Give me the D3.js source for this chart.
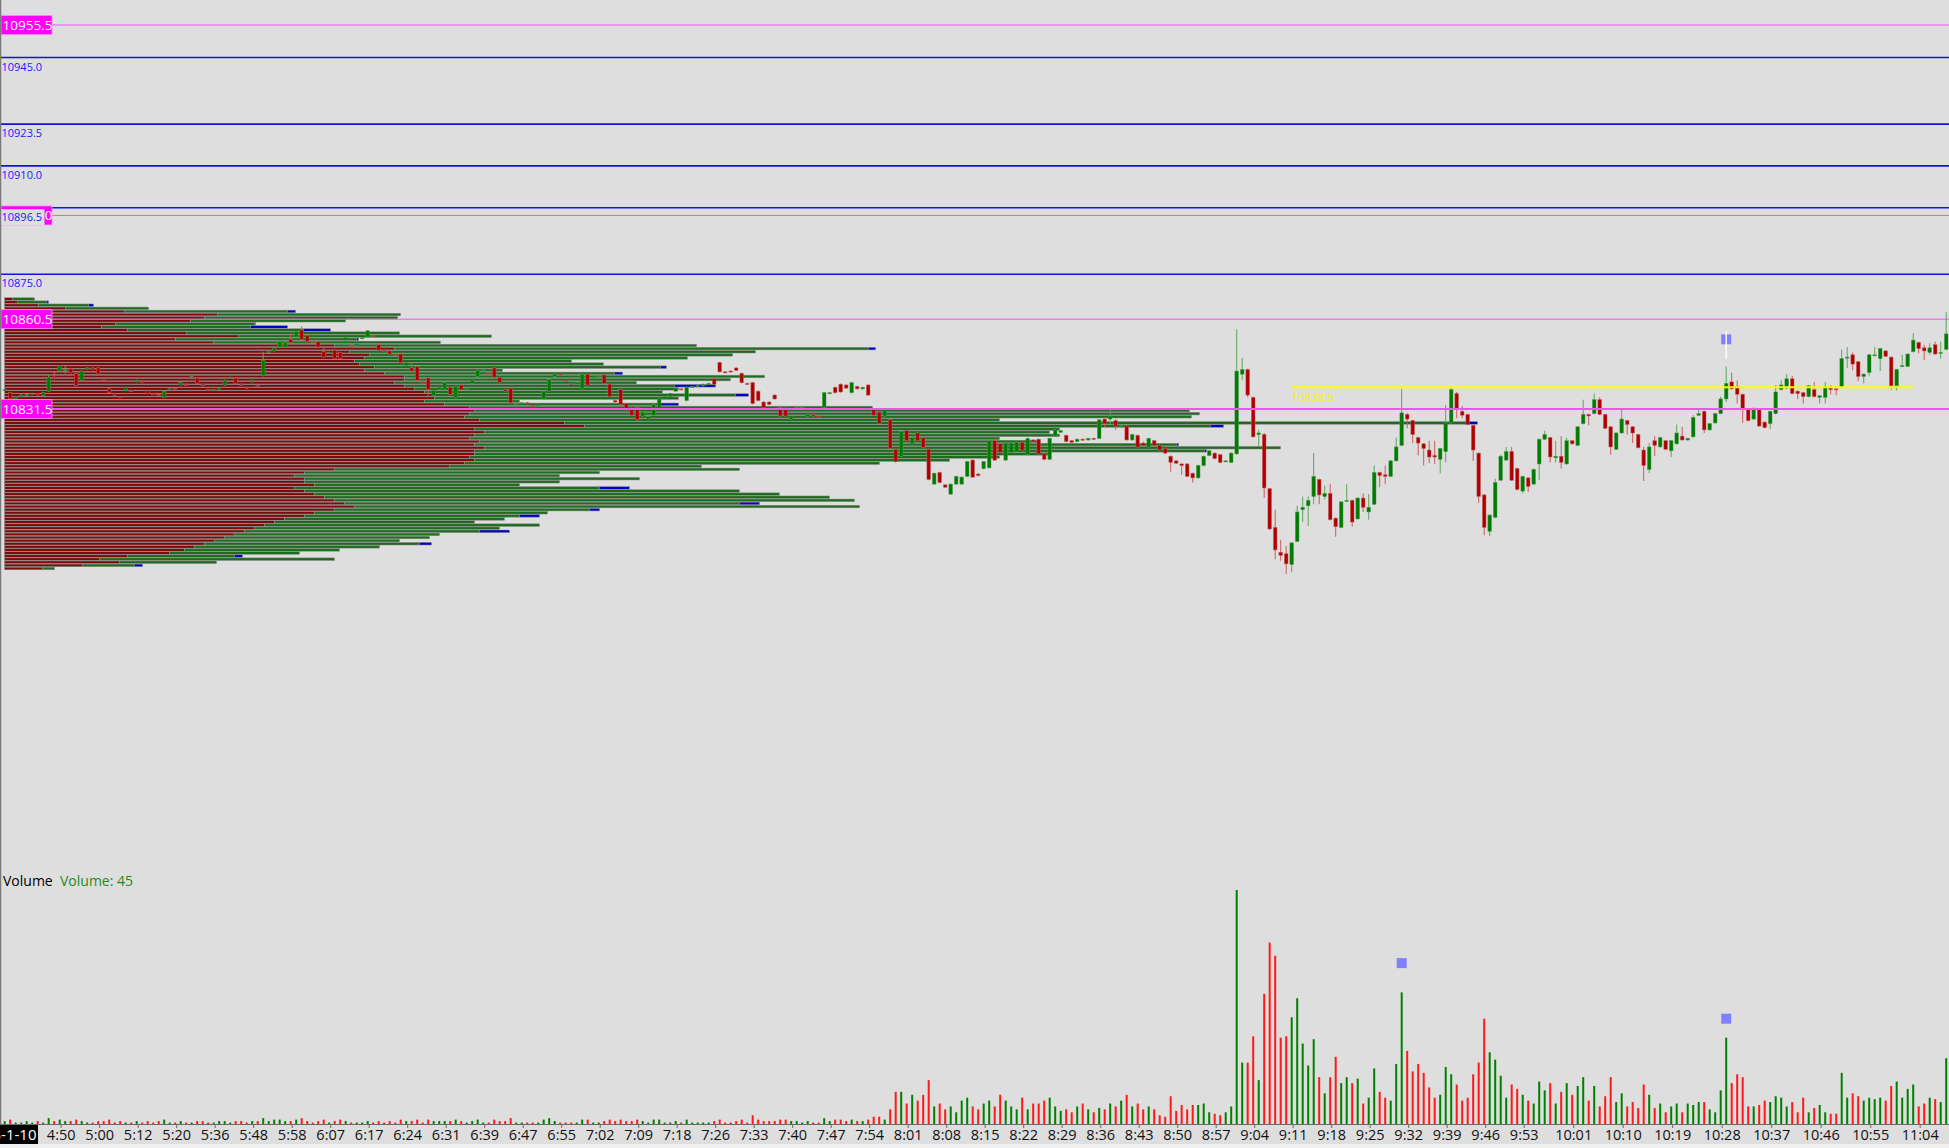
<!DOCTYPE html>
<html>
<head>
<meta charset="utf-8">
<script src="https://cdnjs.cloudflare.com/ajax/libs/d3/7.8.5/d3.min.js"></script>
<style>
html, body { margin: 0; padding: 0; background: #dedede; overflow: hidden; }
svg { display: block; font-family: "Open Sans", "Liberation Sans", sans-serif; }
</style>
</head>
<body>
<div id="chart"></div>
<script>
// one-minute bars, index 0 .. 353
var opens = [
10837.5,10836.75,10834.75,10835.5,10836,10836.25,10836.5,10835.75,10837.25,10841.75,
10843.75,10844.25,10844.5,10843,10840.75,10844.5,10844.75,10844.75,10841.25,10838,
10836.5,10835.5,10837.5,10837.5,10840.25,10840.5,10837.5,10836.5,10836.25,10835.25,
10838.25,10838.25,10839.25,10839.5,10841.75,10841.5,10839.5,10837.75,10837.5,10838,
10839.25,10841.75,10841.5,10839.5,10838.5,10840.25,10839.25,10842.25,10849.75,10850.25,
10851.5,10851.5,10854,10854.75,10857,10855.25,10853.25,10853.25,10850,10849.5,
10850.5,10849.75,10853.75,10852,10852,10854.25,10854.75,10855.25,10852.25,10850.5,
10850.25,10849.25,10849.25,10845.5,10844.75,10845.25,10840.25,10841.5,10835.75,10837.75,
10838,10838.5,10835.25,10839.25,10837.75,10839.75,10842,10844,10843,10844.75,
10841.75,10837.75,10838.25,10833.25,10833.25,10833.5,10832.75,10832.5,10834.75,10837.25,
10842,10842.75,10840.75,10839.75,10839.5,10838.25,10842.75,10841.5,10841.75,10842.5,
10839.5,10834.25,10837.75,10833.25,10831.75,10832,10829.25,10828.25,10829.5,10830.75,
10834.75,10835.5,10837.25,10838,10834.25,10838.5,10838.75,10839,10839.5,10841.25,
10846.5,10843.5,10843.75,10844.75,10843,10839.75,10840,10837.25,10833.75,10833.75,
10836,10832,10831.75,10828.25,10830.75,10831.75,10829,10829.75,10829.25,10832,
10836.5,10838.5,10839.5,10839.25,10836.75,10838.75,10838,10839.25,10831.5,10830.5,
10829.25,10828,10818.5,10816.25,10824.5,10820.25,10823.75,10822.25,10818.5,10807.25,
10811,10807,10804,10807.25,10807.25,10809.75,10815,10810.5,10812.25,10812.5,
10821.25,10820.25,10815,10817.5,10817.75,10820.75,10816.75,10821.5,10821.75,10817,
10815.25,10822.75,10824,10823,10821.25,10821,10821.75,10821.5,10822,10822,
10828.25,10828.25,10827.75,10826,10826,10821.5,10823,10820.5,10819.25,10821.25,
10819.75,10818.75,10816.25,10814.75,10813.75,10813.75,10810.75,10809.25,10813.25,10816.5,
10817.25,10816.75,10814.5,10814.25,10817,10842.75,10844.25,10835.25,10823.25,10823.25,
10805.75,10793.25,10785.25,10784.75,10781.25,10788.75,10799,10800.25,10803.25,10808.75,
10803.25,10804.25,10796.25,10793.25,10801.75,10802,10796,10802.75,10798.25,10800.75,
10811,10810.25,10809.75,10814.75,10819.75,10829.75,10827.75,10822.25,10820.25,10818.25,
10816.5,10815.25,10817.75,10827,10836.5,10830.75,10829.75,10826.25,10817.25,10803.75,
10792,10796.5,10808.5,10815,10817.75,10812.25,10805,10809.25,10807.25,10813.75,
10821.75,10822.25,10815.75,10816.25,10813.75,10821.25,10819.75,10826.75,10829.75,10830,
10834.5,10829.75,10825.75,10818.5,10823.75,10827.75,10825.75,10823.25,10818.25,10812,
10821.25,10819.25,10821.25,10818,10820.25,10822.75,10821.5,10822.5,10829.5,10830.75,
10824.75,10827,10830,10834.75,10840.25,10838.75,10836.25,10831.25,10828.25,10831.25,
10827.25,10826.75,10830,10837.75,10838.25,10841.25,10837.25,10836.75,10835.5,10837.75,
10835.25,10835.25,10838.25,10838,10838.5,10848,10849,10846.75,10842,10843.25,
10848.75,10847.75,10850.25,10848.25,10839,10845.25,10845.25,10850,10853,10851.25,
10849.75,10852.25,10849.5,10850.75];
var highs = [
10838,10837,10835.75,10836.25,10836.5,10836.75,10836.75,10837,10842.5,10843.5,
10845.75,10845.5,10844.75,10843.25,10844,10845,10845,10845,10841.5,10838.25,
10836.75,10835.75,10838.75,10837.75,10841,10840.75,10837.75,10836.75,10836.5,10837.5,
10838.5,10838.5,10840.25,10839.75,10842.25,10841.75,10839.75,10838,10838,10838.75,
10841,10842,10841.75,10839.75,10838.75,10841,10839.5,10850,10850.5,10851.5,
10853.5,10853.25,10856,10856.75,10858.25,10855.5,10853.5,10853.5,10851.5,10850,
10850.75,10850,10854.75,10852.25,10852.75,10854.75,10857,10855.5,10852.5,10850.75,
10850.5,10849.5,10849.5,10846.75,10846.5,10845.5,10840.5,10841.75,10837.75,10838.75,
10840.25,10838.75,10839,10839.5,10838.5,10841,10844.25,10844.25,10843.25,10845,
10842,10838,10838.5,10833.5,10833.75,10833.75,10833,10833,10837.5,10841.25,
10843,10843,10841,10840,10840.25,10843,10843,10842,10842.25,10842.75,
10839.75,10834.5,10838,10833.5,10832,10832.25,10830.75,10829.25,10833.25,10835,
10835.75,10836.75,10838.5,10838.25,10838.75,10839,10839.25,10839.75,10840,10841.5,
10846.75,10843.75,10844,10845,10843.25,10840,10840.25,10837.5,10834,10834,
10836.25,10832.25,10832,10829.5,10832.25,10832.25,10830,10830,10829.5,10837,
10837,10838.75,10839.75,10839.5,10840.25,10839,10838.75,10839.5,10831.75,10830.75,
10831.5,10828.25,10818.75,10824.5,10824.75,10822.5,10824,10822.5,10818.75,10811,
10811.25,10807.25,10807.5,10810,10809.75,10814.75,10815.25,10810.75,10814.75,10821.5,
10821.5,10820.5,10820.75,10820.75,10821,10821,10822.25,10821.75,10822,10817.25,
10822.25,10825,10824.75,10823.25,10821.5,10822,10822,10822.25,10822.25,10828.25,
10829,10831.25,10828.25,10826.5,10826.25,10823.5,10823.25,10821,10822.25,10821.5,
10820,10819,10816.5,10815,10814,10814,10811,10813.5,10816.5,10818.25,
10817.5,10817,10815,10817.5,10857.25,10848,10844.5,10835.5,10824.75,10823.75,
10806,10799,10789.25,10787.25,10788.5,10800.25,10803.25,10803.25,10817.25,10809,
10806.75,10807.25,10796.5,10801.75,10807.25,10802.25,10803,10804.25,10804,10813.25,
10811.25,10813.25,10815,10822.25,10838,10830.25,10828,10822.5,10820.5,10821.25,
10821.25,10819,10832.75,10838.5,10837,10832.5,10830,10826.5,10817.5,10804,
10797.5,10809,10816.75,10819.25,10819.25,10812.5,10810,10809.5,10812.25,10822,
10824.5,10822.5,10821.25,10822.75,10822.25,10821.5,10826,10834.5,10830,10836.5,
10835.25,10830,10826,10824,10831.25,10828,10826,10823.5,10819.25,10820.5,
10822.75,10822.5,10821.5,10821.5,10826.5,10825.75,10822.25,10829.5,10831.25,10831,
10827,10830.25,10835.5,10845.25,10843.25,10840.75,10836.5,10831.5,10832,10831.5,
10827.5,10831,10839.25,10840.75,10842.75,10842.25,10837.5,10837,10839.25,10840.25,
10836,10840.25,10839.25,10838.25,10850.75,10851.5,10849.75,10847,10843,10849.25,
10851.5,10851.25,10850.5,10848.5,10844.5,10849,10849.5,10856,10853.25,10852.25,
10852.75,10853.25,10853.25,10862.75];
var lows = [
10837.25,10834.5,10834.5,10835.25,10835.75,10836,10835.75,10835.5,10837,10841,
10843.5,10843,10843,10838.75,10840.5,10844.25,10844.25,10842.5,10840.5,10836.5,
10835.75,10835,10837.25,10837,10840,10840,10836.25,10836,10835.5,10835,
10838,10837.75,10839,10839,10841.5,10839.5,10838.75,10837.25,10837.25,10837.75,
10839,10841.5,10839.5,10839,10838,10840,10838.75,10842,10849.5,10850,
10851.25,10851.25,10852.75,10854.5,10853.75,10853,10852.75,10851.25,10848,10849.25,
10847.5,10847.5,10853.5,10851.5,10851.75,10854,10854.5,10854.75,10850.25,10850,
10849,10848.75,10846.25,10845.25,10843.5,10840.5,10839.75,10835.25,10835.5,10837.5,
10837.75,10836,10835,10837.5,10837.5,10839.5,10841.75,10843.75,10842.5,10841.5,
10839.75,10837,10833.25,10833,10833,10833,10832.25,10832.25,10834.5,10837,
10841.75,10842.25,10840.25,10839.25,10839.25,10838,10839,10841.25,10841.5,10839.5,
10835.25,10833.5,10832.75,10831,10829.25,10827.75,10829,10828,10829.25,10830.5,
10834.5,10835.25,10837,10837.5,10834,10838.25,10838.5,10838.75,10839.25,10839.25,
10843.25,10843,10843.25,10843.75,10839.75,10839.25,10833,10834,10831.75,10832.75,
10834.5,10829,10829,10828,10830.5,10831.5,10828.75,10829,10828.75,10831.75,
10836.25,10836.5,10836.75,10838,10836.5,10837.75,10837.75,10835.75,10829.25,10826.5,
10829,10818.5,10814.25,10816,10821,10820,10821,10818.75,10808.5,10807,
10807.5,10806,10803.75,10807,10807,10809.5,10809.25,10809.75,10812,10812.25,
10814.75,10817.25,10814.75,10817.25,10817.5,10818,10816.5,10820.75,10816.75,10815,
10815,10822.5,10823.75,10820.75,10820.5,10820.75,10821.25,10821.25,10821.5,10821.75,
10825.75,10826.5,10824.75,10825.5,10821.25,10821.25,10819,10819.5,10819,10819.5,
10818,10817,10811.25,10813.75,10810.25,10809.5,10807.75,10809,10813,10816.25,
10815.25,10814,10814.25,10814,10816.75,10840.75,10835.25,10822.25,10819.25,10802.75,
10792.5,10783,10782.5,10778.25,10778.75,10788.5,10795,10793.75,10800.75,10800.75,
10802.25,10795.5,10790.25,10793,10801.5,10793.5,10795.75,10798.25,10795.75,10800.5,
10806.25,10807.25,10809.5,10814.5,10819.5,10825.25,10820.5,10816.5,10813.25,10814,
10813.75,10810.75,10814.25,10826.75,10828.5,10828.5,10826.25,10814.75,10801.25,10790.75,
10790.5,10796.25,10808.25,10814.75,10808.25,10805.25,10804.25,10804.75,10807,10808.5,
10821.5,10814.25,10814.25,10812.25,10813.5,10820,10819.5,10826.5,10826.25,10829.75,
10829.5,10825,10816.75,10818.25,10823.5,10823.25,10820.5,10818.75,10808.25,10810.75,
10816.25,10819,10818.25,10816,10820,10821.25,10821.25,10822.25,10829.25,10823.75,
10824.5,10826.75,10829.75,10833.75,10837.75,10833.25,10827,10827.5,10828,10825.75,
10825.25,10825,10829.75,10837.5,10838,10836.25,10834.75,10833.25,10835.25,10835.25,
10833.25,10833.25,10836.25,10836,10838.25,10844.75,10844,10840.5,10839.75,10842.25,
10848.5,10843.75,10848.25,10837.75,10837.5,10845,10845,10849.75,10849.5,10847.25,
10849,10849,10847.75,10850.5];
var closes = [
10837.75,10834.75,10835.5,10836,10836.25,10836.5,10836,10836.75,10841.75,10841.25,
10845.5,10844.25,10843.25,10839,10843.75,10844.75,10844.5,10842.75,10840.75,10836.75,
10836,10835.25,10838.5,10837.25,10840.75,10840.25,10836.5,10836.25,10835.75,10837.25,
10838.25,10838,10840,10839.25,10842,10839.75,10839,10837.5,10837.75,10838.5,
10840.75,10841.75,10839.75,10839.25,10838.25,10840.75,10839,10847.25,10850.25,10851.25,
10853.25,10853,10853,10856.5,10854,10853.25,10853,10851.5,10848.25,10849.75,
10847.75,10847.75,10854.5,10851.75,10852.5,10854.5,10856.75,10855,10850.5,10850.25,
10849.25,10849,10846.5,10846.5,10843.75,10840.75,10840,10837.75,10837.5,10838.5,
10840,10836.25,10838.75,10837.75,10838.25,10840.75,10844,10844,10842.75,10841.75,
10840,10837.25,10833.5,10833.25,10833.5,10833.25,10832.5,10832.75,10837.25,10841,
10842.75,10842.5,10840.5,10839.5,10840,10842.75,10839.25,10841.75,10842,10839.75,
10835.5,10833.75,10833,10831.25,10829.5,10828,10830.5,10829,10833,10834.75,
10835.5,10836.5,10838.25,10837.75,10838.5,10838.75,10839,10839.5,10839.75,10839.5,
10843.5,10843.25,10843.5,10844,10840,10839.5,10833.25,10834.25,10832,10833,
10834.75,10829.25,10829.25,10829.25,10832,10832,10829.75,10829.25,10829,10836.75,
10836.75,10836.75,10837,10838.25,10840,10838,10838.5,10836,10829.5,10826.75,
10831.25,10818.75,10814.5,10824.25,10821.25,10822.25,10821.25,10819,10808.75,10810.75,
10807.75,10806.25,10807.25,10809.75,10809.5,10814.5,10809.5,10810,10814.5,10821.25,
10815,10817.5,10820.5,10820.5,10820.75,10818.25,10822,10821,10817,10815.25,
10822,10824.75,10824.5,10821,10820.75,10821.75,10821.5,10822,10821.75,10828,
10826.75,10829.25,10826,10826,10821.5,10823.25,10819.25,10819.75,10822,10819.75,
10818.25,10817.25,10814.25,10814,10813.25,10809.75,10809.25,10813.25,10816.25,10818,
10815.5,10814.25,10814.75,10817.25,10843.75,10844.25,10836,10822.5,10823.75,10806,
10792.75,10786,10784.25,10781.5,10788.25,10798.25,10799.75,10802,10809.75,10803.75,
10804.25,10795.75,10793.5,10801.5,10802,10795,10802.75,10799.75,10799.75,10811,
10810,10809.75,10814.75,10819.25,10830.25,10828.25,10823.25,10820.5,10818.75,10816,
10816,10818.75,10827,10837.75,10831.75,10829.5,10826.5,10818.25,10803.25,10793.25,
10797.25,10807.75,10816.25,10817.75,10808.5,10805.5,10809.75,10806.5,10812,10821.75,
10823.25,10816,10816.25,10814.25,10821.25,10820.25,10825.75,10829.75,10829.25,10834.5,
10829.75,10825.25,10819.25,10823.75,10828.25,10826.5,10823.75,10819,10813.25,10819.25,
10819.75,10822.25,10818.5,10821.25,10823.75,10821.5,10822,10828.75,10830,10824.75,
10826.75,10830,10834.75,10839.75,10838,10836.25,10831.5,10827.75,10831.75,10826,
10825.5,10830.75,10837,10839.25,10841.25,10836.5,10836.5,10835.5,10839,10835.5,
10835.75,10838.75,10837.75,10837.75,10847.75,10848.25,10846,10842,10842.75,10849,
10849,10851,10848.5,10839,10844.25,10845.5,10849.25,10853.75,10851,10850.25,
10851.25,10849.25,10849.75,10855.75];
var volumes = [
2,3,1,1,2,1,2,1,4,2, 3,2,2,3,2,1,1,2,2,3, 1,2,1,1,2,1,2,1,2,3, 1,1,2,1,1,2,2,1,1,2,
2,1,2,2,1,2,2,4,2,3, 3,2,2,3,4,2,1,2,3,1, 2,3,2,1,1,1,2,1,2,1, 2,1,3,2,2,3,1,3,2,2,
2,2,3,2,1,2,3,1,1,3, 2,2,4,1,1,1,1,1,3,4, 2,1,1,1,1,3,3,1,1,2, 3,2,3,2,2,3,2,1,3,3,
1,1,2,1,3,1,1,1,1,2, 3,1,1,2,3,1,6,3,2,2, 2,3,3,2,2,1,2,1,1,4, 2,3,3,2,3,2,2,3,5,5,
3,10,22,22,14,20,16,20,30,12, 14,10,12,8,16,18,12,10,14,16, 12,20,16,12,10,18,10,14,14,16,
18,12,9,10,8,12,14,10,8,11, 10,14,12,16,20,12,14,10,12,10, 6,5,19,9,13,10,13,13,14,8,
7,6,8,12,160,42,42,60,30,89, 124,115,59,60,73,86,55,40,58,32, 21,32,46,28,32,28,31,14,18,38,
22,18,16,41,90,50,36,41,35,25, 18,20,39,34,27,16,18,34,42,72, 49,44,33,18,27,24,20,16,14,29,
23,28,14,22,28,20,26,32,16,26, 12,19,32,15,21,12,15,11,27,20, 11,14,8,12,14,8,14,13,15,15,
10,8,23,59,28,34,32,12,12,13, 16,15,19,18,12,15,8,18,8,11, 13,8,7,7,35,18,21,19,16,18,
17,18,16,26,29,18,24,27,12,14, 18,17,15,45];

// volume profile, one row per point from profileTop downwards (sell / buy / rest)
var profileTop = 10867;
var profSell = [8,13,34,61,120,213,200,186,111,97, 123,182,234,171,209,330,390,345,365,360,
  350,355,370,360,380,400,400,390,400,410, 420,430,430,420,440,465,470,465,460,475,
  560,580,470,480,470,465,475,470,480,470, 470,465,470,460,445,330,300,290,300,300,
  310,290,300,310,320,330,340,350,330,310, 300,280,270,260,250,240,230,220,210,200,
  190,180,165,123,95,115,78,38];
var profBuy = [22,29,50,83,163,183,193,155,139,149, 176,213,253,181,227,362,474,406,363,323,
  217,244,286,138,230,360,326,242,270,264, 238,301,244,95,216,403,715,730,727,520,
  902,626,585,565,585,530,560,702,796,730, 575,530,475,415,252,405,295,265,335,255,
  205,305,435,465,505,520,395,505,255,233, 215,220,200,275,245,235,205,205,185,215,
  185,155,130,107,235,97,52,12];
var profExtra = [0,2,5,0,8,0,0,0,1,37, 27,0,0,2,0,0,7,0,0,0,
  0,0,6,0,8,0,0,0,41,0, 0,13,0,0,18,0,0,0,0,0,
  11,13,0,0,0,0,0,2,0,2, 0,0,0,0,0,0,0,0,0,0,
  0,30,0,0,0,0,20,0,10,0, 20,0,0,0,0,30,0,0,0,12,
  0,0,0,8,0,0,8,0];

// horizontal levels
var magentaLevels = [10955.5, 10894.0, 10860.5, 10831.5];
var magentaWidths = [1, 1, 1, 2];
var blueLevels = [10945.0, 10923.5, 10910.0, 10896.5, 10875.0];
var yellowLevel = 10838.5, yellowFrom = 234, yellowTo = 347;

// markers
var priceMarkIdx = 313, priceMarkVal = 10854, priceMarkSpan = [10856.75, 10847.75];
var volMarkIdx = [254, 313], volMarkVal = [110, 72];

// time axis
var tickLabels = ['4:50','5:00','5:12','5:20','5:36','5:48','5:58','6:07','6:17','6:24','6:31','6:39',
  '6:47','6:55','7:02','7:09','7:18','7:26','7:33','7:40','7:47','7:54','8:01','8:08','8:15','8:22',
  '8:29','8:36','8:43','8:50','8:57','9:04','9:11','9:18','9:25','9:32','9:39','9:46','9:53',
  '10:01','10:10','10:19','10:28','10:37','10:46','10:55','11:04'];
var tickIdx = [10,17,24,31,38,45,52,59,66,73,80,87,94,101,108,115,122,129,136,143,150,157,164,171,
  178,185,192,199,206,213,220,227,234,241,248,255,262,269,276,285,294,303,312,321,330,339,348];
var dateLabel = '23-1-10';

var width = 1949, height = 1148;
var svg = d3.select('#chart').append('svg').attr('width', width).attr('height', height);

svg.append('rect').attr('width', width).attr('height', height).attr('fill', '#dedede');

var x = d3.scaleLinear().domain([0, 353]).range([4.7, 1946.2]);
var y = d3.scaleLinear().domain([10955.5, 10831.5]).range([25, 409]);
var yVol = d3.scaleLinear().domain([0, 160]).range([1124, 890]);
var xProf = d3.scaleLinear().domain([0, 1000]).range([4.5, 1004.5]);

// profile
var prof = svg.append('g');
profSell.forEach(function(s, k){
  var level = profileTop - k, yc = y(level);
  var b = profBuy[k], e = profExtra[k];
  prof.append('rect').attr('x', xProf(0)).attr('y', yc - 1.3).attr('width', xProf(s) - xProf(0)).attr('height', 2.6)
    .attr('fill', '#7a0c0c').attr('stroke', '#8c8c8c').attr('stroke-width', 0.5);
  prof.append('rect').attr('x', xProf(s)).attr('y', yc - 1.3).attr('width', xProf(s + b) - xProf(s)).attr('height', 2.6)
    .attr('fill', '#1f6b1f').attr('stroke', '#8c8c8c').attr('stroke-width', 0.5);
  if (e > 0) {
    prof.append('rect').attr('x', xProf(s + b)).attr('y', yc - 1.3).attr('width', xProf(s + b + e) - xProf(s + b)).attr('height', 2.6)
      .attr('fill', '#0000c8').attr('stroke', '#8c8c8c').attr('stroke-width', 0.5);
  }
});

// candles
var bars = d3.range(opens.length);
var cg = svg.append('g');
cg.selectAll('line').data(bars).enter().append('line')
  .attr('x1', function(i){ return x(i); }).attr('x2', function(i){ return x(i); })
  .attr('y1', function(i){ return y(highs[i]); }).attr('y2', function(i){ return y(lows[i]); })
  .attr('stroke', function(i){ return closes[i] >= opens[i] ? '#5ea65e' : '#cc5c5c'; })
  .attr('stroke-width', 1);
cg.selectAll('rect').data(bars).enter().append('rect')
  .attr('x', function(i){ return x(i) - 1.8; })
  .attr('width', 3.6)
  .attr('y', function(i){ return y(Math.max(opens[i], closes[i])); })
  .attr('height', function(i){ return Math.max(1, Math.abs(y(opens[i]) - y(closes[i]))); })
  .attr('fill', function(i){ return closes[i] >= opens[i] ? '#007a00' : '#ad0000'; })
  .attr('stroke', function(i){ return closes[i] >= opens[i] ? '#4f9d4f' : '#c76060'; })
  .attr('stroke-width', 0.5);

// level lines
blueLevels.forEach(function(p){
  svg.append('line').attr('x1', 0).attr('x2', width).attr('y1', y(p)).attr('y2', y(p))
    .attr('stroke', '#1212e8').attr('stroke-width', 1.6);
});
magentaLevels.forEach(function(p, k){
  svg.append('line').attr('x1', 0).attr('x2', width).attr('y1', y(p)).attr('y2', y(p))
    .attr('stroke', '#ee55ee').attr('stroke-width', magentaWidths[k]);
});
svg.append('line').attr('x1', x(yellowFrom)).attr('x2', x(yellowTo)).attr('y1', y(yellowLevel)).attr('y2', y(yellowLevel))
  .attr('stroke', '#ffff00').attr('stroke-width', 2);
svg.append('text').attr('x', x(yellowFrom)).attr('y', y(yellowLevel) + 14)
  .attr('fill', '#f4f400').attr('font-size', 11.5).text(yellowLevel.toFixed(1));

// price marker
svg.append('rect').attr('x', x(priceMarkIdx) - 5).attr('y', y(priceMarkVal) - 5).attr('width', 10).attr('height', 10)
  .attr('fill', '#8080ff');
svg.append('line').attr('x1', x(priceMarkIdx)).attr('x2', x(priceMarkIdx))
  .attr('y1', y(priceMarkSpan[0])).attr('y2', y(priceMarkSpan[1]))
  .attr('stroke', '#ffffff').attr('stroke-width', 1.4);

// labels of levels
magentaLevels.forEach(function(p){
  svg.append('rect').attr('x', 1).attr('y', y(p) - 9.5).attr('width', 51).attr('height', 19)
    .attr('fill', '#ff00ff').attr('stroke', '#ff88ff').attr('stroke-width', 0.8);
  svg.append('text').attr('x', 2.5).attr('y', y(p) + 5).attr('fill', '#ffffff')
    .attr('font-size', 13.5).text(p.toFixed(1));
});
blueLevels.forEach(function(p){
  svg.append('rect').attr('x', 0).attr('y', y(p) + 1.5).attr('width', 44.5).attr('height', 16).attr('fill', '#dedede');
  svg.append('text').attr('x', 1.5).attr('y', y(p) + 13).attr('fill', '#1a1aff')
    .attr('font-size', 11).text(p.toFixed(1));
});

// volume pane
svg.append('g').selectAll('rect').data(bars).enter().append('rect')
  .attr('x', function(i){ return x(i) - 1; })
  .attr('width', 2)
  .attr('y', function(i){ return yVol(volumes[i]); })
  .attr('height', function(i){ return yVol(0) - yVol(volumes[i]); })
  .attr('fill', function(i){ return closes[i] >= opens[i] ? '#008000' : '#ff1a1a'; });
volMarkIdx.forEach(function(i, k){
  svg.append('rect').attr('x', x(i) - 5).attr('y', yVol(volMarkVal[k]) - 5).attr('width', 10).attr('height', 10)
    .attr('fill', '#8080ff');
});
svg.append('text').attr('x', 3).attr('y', 886).attr('fill', '#000').attr('font-size', 14).text('Volume');
svg.append('text').attr('x', 60).attr('y', 886).attr('fill', '#1e8c1e').attr('font-size', 14)
  .text('Volume: ' + volumes[volumes.length - 1]);

// time axis
svg.append('rect').attr('x', 0).attr('y', 1144).attr('width', width).attr('height', 4).attr('fill', '#f0f0f0');
svg.append('line').attr('x1', 0).attr('x2', width).attr('y1', 1124.5).attr('y2', 1124.5)
  .attr('stroke', '#6a6a6a').attr('stroke-width', 1);
var axis = svg.append('g');
axis.selectAll('line').data(tickIdx).enter().append('line')
  .attr('x1', function(i){ return x(i) + 1.5; }).attr('x2', function(i){ return x(i) + 1.5; })
  .attr('y1', 1124.5).attr('y2', 1128).attr('stroke', '#6a6a6a');
axis.selectAll('text').data(tickIdx).enter().append('text')
  .attr('x', function(i){ return x(i) + 1.5; }).attr('y', 1140)
  .attr('text-anchor', 'middle').attr('font-size', 14.5).attr('fill', '#111')
  .text(function(d, k){ return tickLabels[k]; });
svg.append('rect').attr('x', 0).attr('y', 1125).attr('width', 38).attr('height', 19).attr('fill', '#000');
svg.append('text').attr('x', 36.5).attr('y', 1140).attr('text-anchor', 'end').attr('font-size', 15)
  .attr('fill', '#fff').text(dateLabel);

// left frame
svg.append('line').attr('x1', 0.5).attr('x2', 0.5).attr('y1', 0).attr('y2', 1124)
  .attr('stroke', '#7a7a7a').attr('stroke-width', 1.5);
</script>
</body>
</html>
